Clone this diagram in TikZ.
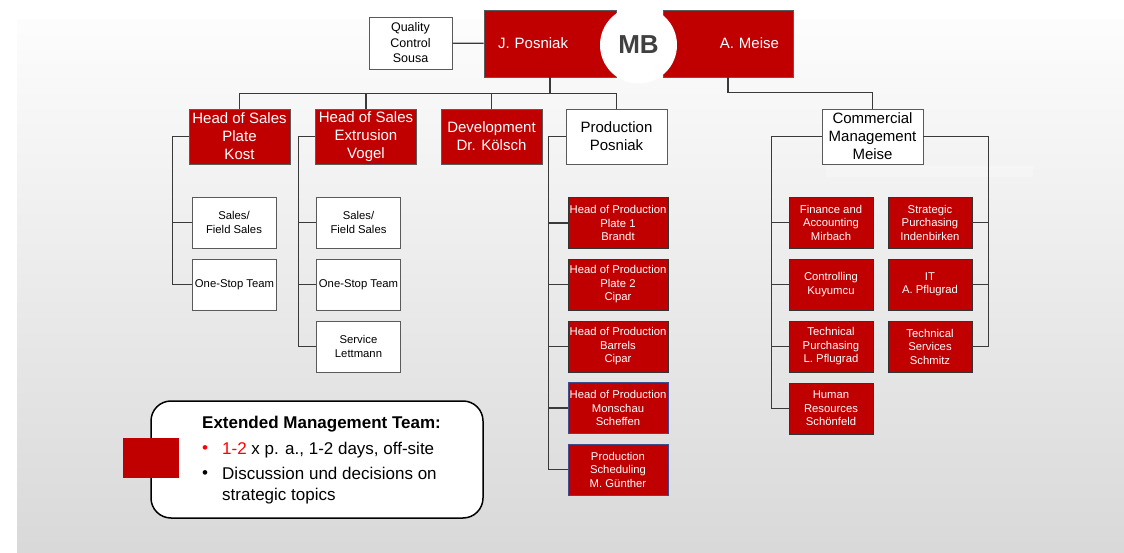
\documentclass[tikz,border=0pt]{standalone}
\usepackage{fontspec}
\setmainfont{Liberation Sans}
\usepackage{xcolor}
\usepackage{tikz}
\usetikzlibrary{positioning,calc}

\definecolor{boardred}{HTML}{C00000}
\definecolor{linegray}{HTML}{3A3A3A}
\definecolor{boxgray}{HTML}{5A5A5A}
\definecolor{mbgray}{HTML}{404040}
\definecolor{edgeblue}{HTML}{3C4C8C}

\begin{document}
\begin{tikzpicture}[x=1pt,y=-1pt,
    link/.style={draw=linegray,line width=1.2pt},
    head node/.style={rectangle,draw=boxgray,line width=0.8pt,fill=boardred,text=white,align=center,inner sep=1pt,
                      minimum width=101pt,minimum height=55pt,font=\fontsize{15}{18}\selectfont},
    staff node/.style={head node,fill=white,text=black},
    unit node/.style={rectangle,draw=black!80,line width=0.8pt,fill=boardred,text=white,align=center,inner sep=1pt,
                      minimum width=84pt,minimum height=51pt,font=\fontsize{11.3}{13.5}\selectfont},
    team node/.style={unit node,draw=boxgray,fill=white,text=black}]

\useasboundingbox (0,0) rectangle (1124,553);
\fill[white] (0,0) rectangle (1124,553);
\shade[top color=black!1,bottom color=black!15] (17,20) rectangle (1124,553);
\fill[white,opacity=0.3] (826,166) rectangle (1033,177);

% board
\node[rectangle,draw=boxgray,line width=0.8pt,fill=boardred,text=white,minimum width=132pt,minimum height=67pt,
      text width=104pt,align=left,inner xsep=14pt,font=\fontsize{15}{18}\selectfont] (JP) at (550,43.5) {J. Posniak};
\node[rectangle,draw=boxgray,line width=0.8pt,fill=boardred,text=white,minimum width=130pt,minimum height=67pt,
      text width=102pt,align=right,inner xsep=14pt,font=\fontsize{15}{18}\selectfont] (AM) at (728,43.5) {A. Meise};
\node[circle,fill=white,minimum size=77pt,inner sep=0pt,text=mbgray,font=\bfseries\fontsize{26}{30}\selectfont] (MB) at (638.5,45) {MB};
\node[rectangle,draw=boxgray,line width=0.8pt,fill=white,align=center,inner sep=1pt,minimum width=83pt,minimum height=52pt,
      font=\fontsize{12.5}{15.5}\selectfont] (QC) at (410.5,43) {Quality\\Control\\Sousa};

% second level
\node[head node]  (kost)  at (239.5,136.5) {Head of Sales\\Plate\\Kost};
\node[head node]  (vogel) at (366,136.5)   {Head of Sales\\Extrusion\\Vogel};
\node[head node]  (dev)   at (491.5,136.5) {Development\\Dr. K\"olsch};
\node[staff node] (prod)  at (616.5,136.5) {Production\\Posniak};
\node[staff node] (cm)    at (872.5,136.5) {Commercial\\Management\\Meise};

\draw[link] (QC) -- (JP);
\draw[link] (JP.south) -- ++(0,16) coordinate (bus);
\draw[link] (kost.north) |- (bus) -| (prod.north);
\draw[link] (vogel.north) -- (vogel.north |- bus);
\draw[link] (dev.north) -- (dev.north |- bus);
\draw[link] (AM.south) -- ++(0,15) -| (cm.north);

% sales teams
\node[team node] (kost1) at (234,222.5) {Sales/\\Field Sales};
\node[team node] (kost2) at (234.5,284.5) {One-Stop Team};
\draw[link] (kost.west) -- ++(-16,0) coordinate (kostbar);
\foreach \n in {kost1,kost2}
   \draw[link] (kostbar) |- (\n.west);

\node[team node] (vogel1) at (358.5,222.5) {Sales/\\Field Sales};
\node[team node] (vogel2) at (358.5,284.5) {One-Stop Team};
\node[team node] (vogel3) at (358.5,346.5) {Service\\Lettmann};
\draw[link] (vogel.west) -- ++(-16.5,0) coordinate (vogelbar);
\foreach \n in {vogel1,vogel2,vogel3}
   \draw[link] (vogelbar) |- (\n.west);

% production
\draw[link] (prod.west) -- ++(-17,0) coordinate (prodbar);
\foreach \n/\y/\c/\t in {pu1/223/black!80/{Head of Production\\Plate 1\\Brandt},
                         pu2/284.5/black!80/{Head of Production\\Plate 2\\Cipar},
                         pu3/346.5/black!80/{Head of Production\\Barrels\\Cipar},
                         pu4/408/edgeblue/{Head of Production\\Monschau\\Scheffen},
                         pu5/469.5/edgeblue/{Production\\Scheduling\\M. G\"unther}}
   {\node[unit node,draw=\c,minimum width=100pt] (\n) at (618,\y) {\t};
    \draw[link] (prodbar) |- (\n.west);}

% commercial
\draw[link] (cm.west) -- ++(-50,0) coordinate (cmleft);
\draw[link] (cm.east) -- ++(65,0) coordinate (cmright);
\foreach \n/\y/\t in {cl1/222.5/{Finance and\\Accounting\\Mirbach},
                      cl2/284.5/{Controlling\\Kuyumcu},
                      cl3/346.5/{Technical\\Purchasing\\L. Pflugrad},
                      cl4/408.5/{Human\\Resources\\Sch\"onfeld}}
   {\node[unit node] (\n) at (831,\y) {\t};
    \draw[link] (cmleft) |- (\n.west);}
\foreach \n/\y/\t in {cr1/222.5/{Strategic\\Purchasing\\Indenbirken},
                      cr2/284.5/{IT\\A. Pflugrad},
                      cr3/346.5/{Technical\\Services\\Schmitz}}
   {\node[unit node] (\n) at (930,\y) {\t};
    \draw[link] (cmright) |- (\n.east);}

% extended management team
\node[rectangle,rounded corners=20pt,draw=black,line width=1.5pt,fill=white,minimum width=332pt,minimum height=117pt] (legend) at (317,459.5) {};
\node[rectangle,fill=boardred,minimum width=56pt,minimum height=40pt,inner sep=0pt] (legendmark) at (151,458) {};
\node[anchor=west,inner sep=0pt,font=\bfseries\fontsize{17}{20}\selectfont] (legendtitle) at (202,424) {Extended Management Team:};
\node[anchor=west,inner sep=0pt,text=red,font=\fontsize{17}{20}\selectfont] (bullet1) at (202,450) {\textbullet};
\node[anchor=west,inner sep=0pt,font=\fontsize{17}{20}\selectfont] (item1) at (222,450) {\textcolor{red}{1-2} x p. a., 1-2 days, off-site};
\node[anchor=west,inner sep=0pt,font=\fontsize{17}{20}\selectfont] (bullet2) at (202,475) {\textbullet};
\node[anchor=west,inner sep=0pt,align=left,font=\fontsize{17}{21}\selectfont] (item2) at (222,485.5) {Discussion und decisions on\\strategic topics};

\end{tikzpicture}
\end{document}
